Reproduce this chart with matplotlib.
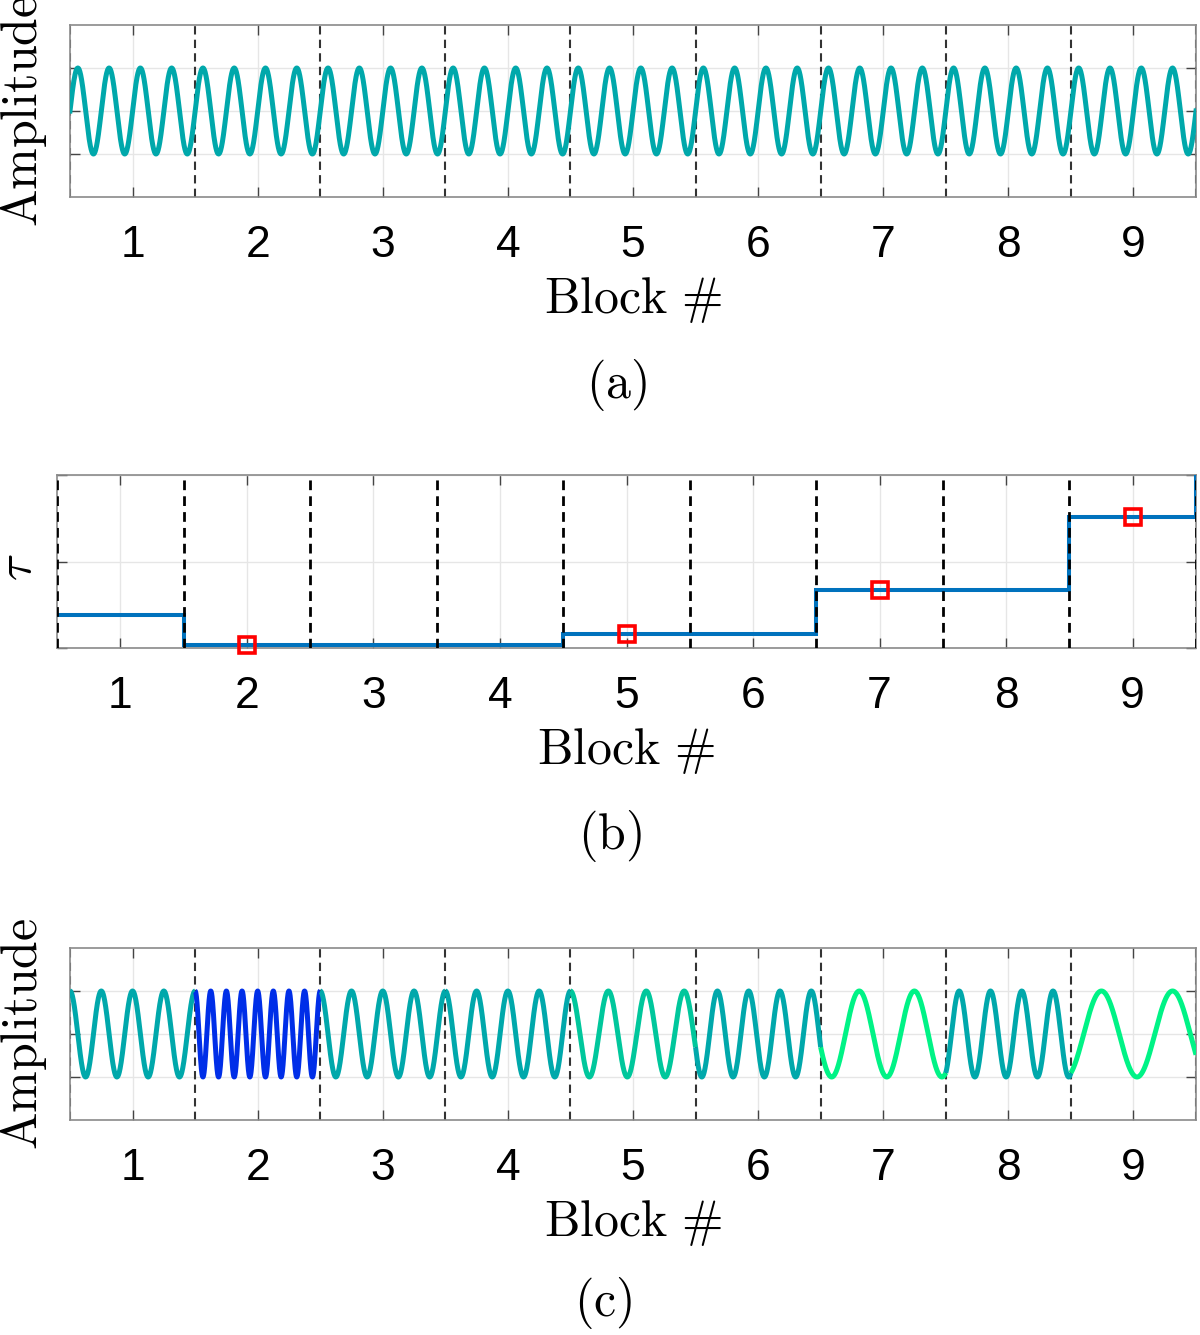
import numpy as np
import matplotlib.pyplot as plt
from matplotlib import cm

plt.rcParams['mathtext.fontset'] = 'cm'
plt.rcParams['font.family'] = ['Liberation Sans', 'DejaVu Sans']

blocks = np.arange(1, 10)
block_edges = np.arange(0.5, 10.5, 1.0)

# (a) constant tone, cycles per block
cycles_a = 4

# (b) delay per block (last value is off the chart, only its rising edge shows)
tau = [0.19, 0.017, 0.017, 0.017, 0.08, 0.08, 0.335, 0.335, 0.757, 1.2]
tau_marked_blocks = [2, 5, 7, 9]

# (c) cycles per block and winter-colormap position per block
cycles_c = [4, 8, 4, 4, 3.3, 4, 2.27, 4, 1.76]
cmap_pos_c = [0.66, 0.18, 0.66, 0.66, 0.78, 0.66, 0.95, 0.66, 0.95]

W, H = 1200, 1335
fig = plt.figure(figsize=(W / 100, H / 100), dpi=100)


def px_axes(left, top, right, bottom):
    return fig.add_axes([left / W, 1 - bottom / H, (right - left) / W, (bottom - top) / H])


def style_axes(ax):
    ax.set_xlim(0.5, 9.5)
    ax.set_xticks(blocks)
    ax.grid(True, color='#e6e6e6', lw=1.0)
    ax.set_axisbelow(True)
    ax.tick_params(direction='in', length=7, width=1, color='#444444',
                   top=True, right=True, labelsize=32, pad=20)
    ax.tick_params(axis='y', labelleft=False)
    for s in ax.spines.values():
        s.set_color('#8a8a8a')
        s.set_linewidth(1.2)


serif = dict(fontsize=36)

# ---------------- (a)
ax1 = px_axes(70, 25, 1196, 197)
style_axes(ax1)
ax1.set_ylim(-2, 2)
ax1.set_yticks([-1, 0, 1])
for e in block_edges:
    ax1.axvline(e, color='#333333', lw=1.5, ls=(0, (4, 2.5)), zorder=2)
xa = np.linspace(0.5, 9.5, 4000)
ax1.plot(xa, np.sin(2 * np.pi * cycles_a * (xa - 0.5)), color=cm.winter(0.66), lw=3.6, zorder=3)
ax1.set_xlabel(r'$\mathrm{Block}\ \#$', **serif)
ax1.xaxis.set_label_coords(0.5, -0.674)
ax1.xaxis.label.set_va('baseline')
ax1.set_ylabel(r'$\mathrm{Amplitude}$', **serif)
ax1.yaxis.set_label_coords(-0.0417, 0.5)
ax1.yaxis.label.set_va('center')

# ---------------- (b)
ax2 = px_axes(57, 475, 1196, 648)
style_axes(ax2)
ax2.set_ylim(0, 1)
ax2.set_yticks([0, 0.5, 1])
ax2.stairs(tau, np.arange(0.5, 11.5, 1.0), color='#0072BD', lw=2.9, baseline=None, zorder=3)
for e in block_edges:
    ax2.axvline(e, color='black', lw=2.0, ls=(0, (3.5, 2.2)), zorder=4)
ax2.plot(tau_marked_blocks, [tau[b - 1] for b in tau_marked_blocks], 's', ms=12,
         mfc='none', mec='#ff0000', mew=2.6, zorder=5, clip_on=False)
ax2.set_xlabel(r'$\mathrm{Block}\ \#$', **serif)
ax2.xaxis.set_label_coords(0.5, -0.670)
ax2.xaxis.label.set_va('baseline')
ax2.set_ylabel(r'$\tau$', **serif)
ax2.yaxis.set_label_coords(-0.034, 0.468)
ax2.yaxis.label.set_va('center')

# ---------------- (c)
ax3 = px_axes(70, 948, 1196, 1120)
style_axes(ax3)
ax3.set_ylim(-2, 2)
ax3.set_yticks([-1, 0, 1])
for e in block_edges:
    ax3.axvline(e, color='#333333', lw=1.5, ls=(0, (4, 2.5)), zorder=2)
phase = 0.0
for b, cyc, cp in zip(blocks, cycles_c, cmap_pos_c):
    xb = np.linspace(b - 0.5, b + 0.5, 600)
    ax3.plot(xb, np.cos(phase + 2 * np.pi * cyc * (xb - (b - 0.5))),
             color=cm.winter(cp), lw=3.6, zorder=3, solid_capstyle='butt')
    phase += 2 * np.pi * cyc
ax3.set_xlabel(r'$\mathrm{Block}\ \#$', **serif)
ax3.xaxis.set_label_coords(0.5, -0.674)
ax3.xaxis.label.set_va('baseline')
ax3.set_ylabel(r'$\mathrm{Amplitude}$', **serif)
ax3.yaxis.set_label_coords(-0.0417, 0.5)
ax3.yaxis.label.set_va('center')

# panel captions
fig.text(617 / W, 1 - 398 / H, r'$\mathrm{(a)}$', ha='center', va='baseline', **serif)
fig.text(610 / W, 1 - 849 / H, r'$\mathrm{(b)}$', ha='center', va='baseline', **serif)
fig.text(603 / W, 1 - 1316 / H, r'$\mathrm{(c)}$', ha='center', va='baseline', **serif)

fig.savefig('out.png', dpi=100)
